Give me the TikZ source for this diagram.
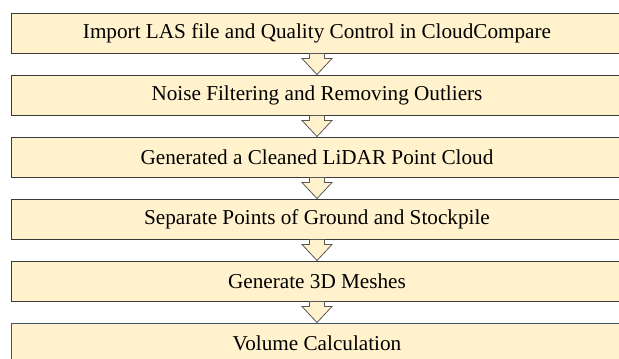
\documentclass[tikz,border=0pt]{standalone}
\usepackage{fontspec}
\setmainfont{Liberation Serif}
\usetikzlibrary{positioning,calc}
\definecolor{boxfill}{HTML}{FFF2CC}
\definecolor{boxline}{HTML}{3A3A3A}
\definecolor{lastline}{HTML}{44546A}
\tikzset{
  stepbox/.style={draw=boxline,fill=boxfill,line width=1pt,minimum width=612pt,
    minimum height=40pt,inner sep=0pt,font=\fontsize{21.2}{25}\selectfont},
  flow/.style={draw=boxline!85,fill=boxfill,line width=.8pt,line join=miter}
}
\begin{document}
\begin{tikzpicture}[x=1pt,y=1pt,node distance=21pt]
    \useasboundingbox (0,0) rectangle (619,-359);
    \node[stepbox] (imp) at (317,-33) {Import LAS file and Quality Control in CloudCompare};
    \node[stepbox,below=of imp] (noise) {Noise Filtering and Removing Outliers};
    \node[stepbox,below=of noise] (clean) {Generated a Cleaned LiDAR Point Cloud};
    \node[stepbox,below=of clean] (sep) {Separate Points of Ground and Stockpile};
    \node[stepbox,below=of sep] (mesh) {Generate 3D Meshes};
    \node[stepbox,draw=lastline,below=of mesh] (vol) {Volume Calculation};
    % block arrows between the steps
    \foreach\a/\b in {imp/noise,noise/clean,clean/sep,sep/mesh,mesh/vol}
    \draw[flow] ($(\a.south)+(-7.5,0)$) -- ++(0,-5) -- ++(-7.5,0) -- (\b.north)
      -- ($(\a.south)+(15,-5)$) -- ++(-7.5,0) -- ++(0,5) -- cycle;
  \end{tikzpicture}
\end{document}
